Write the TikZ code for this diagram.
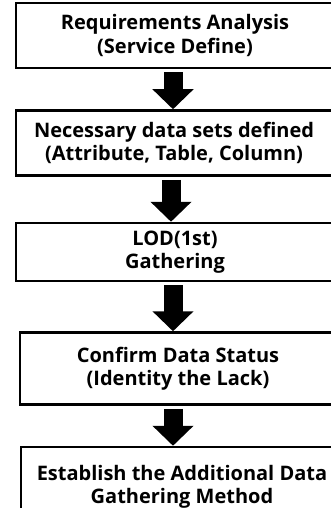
\documentclass[tikz,border=0pt]{standalone}
\usepackage{fontspec}
\setmainfont{Open Sans}
\usetikzlibrary{positioning, arrows.meta}
\tikzstyle{stepBox}=[rectangle, align=center, draw=black, line width=2.5pt,
fill=white, font=\fontsize{20}{23.5}\selectfont\bfseries, inner sep=0pt]
\tikzstyle{bigArrow}=[line width=19pt, draw=black, shorten <=3pt,
-{Triangle[width=40pt, length=20pt]}]

\begin{document}
\begin{tikzpicture}[x=1pt, y=1pt, node distance=40pt]
    \clip (0,0) rectangle (331,-508);
    \useasboundingbox (0,0) rectangle (331,-508);
    \node (requirements) [stepBox, minimum width=318pt, minimum height=65pt]
      at (175,-35.5) {Requirements Analysis\\(Service Define)};
    \node (datasets) [stepBox, minimum width=316pt, minimum height=65pt,
      below=40pt of requirements, xshift=-1pt] {Necessary data sets defined\\(Attribute, Table, Column)};
    \node (lod) [stepBox, minimum width=318pt, minimum height=58pt,
      below=45pt of datasets, xshift=1pt] {LOD(1st)\\Gathering};
    \node (status) [stepBox, minimum width=316pt, minimum height=72pt,
      below=49pt of lod, xshift=3pt] {Confirm Data Status\\(Identity the Lack)};
    \node (method) [stepBox, minimum width=322pt, minimum height=80pt,
      below=40pt of status, xshift=4pt] {Establish the Additional Data\\Gathering Method};
    % arrows between the steps
    \draw [bigArrow] ([xshift=-2pt]requirements.south) -- ([xshift=-2pt]requirements.south |- datasets.north);
    \draw [bigArrow] ([xshift=-3pt]datasets.south) -- ([xshift=-3pt]datasets.south |- lod.north);
    \draw [bigArrow] ([xshift=-2pt]lod.south) -- ([xshift=-2pt]lod.south |- status.north);
    \draw [bigArrow] ([xshift=-5pt]status.south) -- ([xshift=-5pt]status.south |- method.north);
  \end{tikzpicture}
\end{document}
